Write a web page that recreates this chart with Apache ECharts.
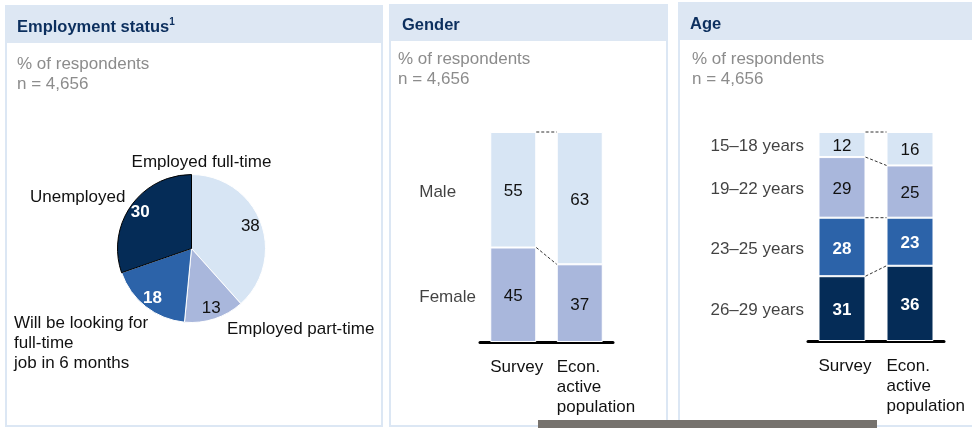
<!DOCTYPE html>
<html>
<head>
<meta charset="utf-8">
<script src="https://cdn.jsdelivr.net/npm/echarts@6/dist/echarts.min.js"></script>
<style>
  html, body { margin: 0; padding: 0; background: #fff; }
  #chart { width: 972px; height: 428px; }
</style>
</head>
<body>
<div id="chart"></div>
<script>
// ---- Data ----
const subtitleLines = ['% of respondents', 'n = 4,656'];

// Employment status (pie, clockwise from 12 o'clock)
const statusNames = ['Employed full-time', 'Employed part-time', 'Will be looking for\nfull-time\njob in 6 months', 'Unemployed'];
const statusValues = [38, 13, 18, 30];

// Comparison columns shared by the gender and age panels
const compareCats = ['Survey', 'Econ.\nactive\npopulation'];

// Gender, stacked bottom to top
const genderNames = ['Female', 'Male'];
const genderFemale = [45, 37];
const genderMale = [55, 63];

// Age, stacked bottom to top
const ageNames = ['26–29 years', '23–25 years', '19–22 years', '15–18 years'];
const age26to29 = [31, 36];
const age23to25 = [28, 23];
const age19to22 = [29, 25];
const age15to18 = [12, 16];

// ---- Styling ----
const FONT = '"Liberation Sans", Arial, Helvetica, sans-serif';
const LIGHT = '#d7e5f4';
const LAV = '#a9b7dc';
const BLUE = '#2c63a9';
const NAVY = '#052c57';
const TXT = '#111111';
const GREY = '#8c8c8c';
const HEAD = '#0c2f5e';
const PANEL_EDGE = '#dce7f4';
const PANEL_HEAD = '#dde7f3';

const pieColors = [LIGHT, LAV, BLUE, NAVY];
const pieDark = [false, false, true, true];
const pieLabelPos = [
  { x: 201.5, y: 162, align: 'center', verticalAlign: 'middle' },
  { x: 227, y: 329, align: 'left', verticalAlign: 'middle' },
  { x: 14, y: 343.5, align: 'left', verticalAlign: 'middle' },
  { x: 30, y: 197, align: 'left', verticalAlign: 'middle' }
];

// Builds the stacked columns, dashed connectors and row labels of one panel
function stackedPanel(gridIndex, stackName, names, segs, colors, darkSegs, barW, rowLabel) {
  const out = [];
  segs.forEach((seg, k) => {
    out.push({
      type: 'bar',
      name: names[k],
      xAxisIndex: gridIndex,
      yAxisIndex: gridIndex,
      stack: stackName,
      barWidth: barW,
      silent: true,
      data: seg,
      itemStyle: { color: colors[k], borderColor: '#ffffff', borderWidth: 1 },
      label: {
        show: true,
        position: 'inside',
        offset: [0, 2],
        fontFamily: FONT,
        fontSize: 17,
        color: darkSegs[k] ? '#ffffff' : TXT,
        fontWeight: darkSegs[k] ? 'bold' : 'normal'
      }
    });
  });

  // cumulative boundaries after each segment
  const links = [];
  const centers = [];
  let cs = 0, ce = 0;
  segs.forEach((seg, k) => {
    centers.push({ name: names[k], value: [0, cs + seg[0] / 2] });
    cs += seg[0];
    ce += seg[1];
    links.push([0, cs, ce]);
  });

  const half = barW / 2;
  out.push({
    type: 'custom',
    xAxisIndex: gridIndex,
    yAxisIndex: gridIndex,
    silent: true,
    z: 5,
    encode: { x: 0, y: [1, 2] },
    data: links,
    renderItem: function (params, api) {
      const s = api.coord([0, api.value(1)]);
      const e = api.coord([1, api.value(2)]);
      return {
        type: 'line',
        shape: { x1: s[0] + half, y1: s[1], x2: e[0] - half, y2: e[1] },
        style: { stroke: '#333333', lineWidth: 1, lineDash: [3, 2] }
      };
    }
  });

  out.push({
    type: 'scatter',
    xAxisIndex: gridIndex,
    yAxisIndex: gridIndex,
    silent: true,
    symbolSize: 1,
    itemStyle: { color: 'rgba(0,0,0,0)' },
    data: centers,
    label: Object.assign({
      show: true,
      position: 'inside',
      formatter: '{b}',
      fontFamily: FONT,
      fontSize: 17,
      color: TXT
    }, rowLabel)
  });
  return out;
}

function catAxis(gridIndex, barW) {
  return {
    type: 'category',
    gridIndex: gridIndex,
    data: compareCats,
    axisLine: { show: true, lineStyle: { color: '#000000', width: 3 } },
    axisTick: { show: false },
    axisLabel: {
      interval: 0,
      margin: 15,
      fontFamily: FONT,
      fontSize: 17,
      color: TXT,
      formatter: v => v.split('\n').map(s => '{a|' + s + '}').join('\n'),
      rich: { a: { width: barW, align: 'left', fontFamily: FONT, fontSize: 17, lineHeight: 20, color: TXT } }
    }
  };
}

function valAxis(gridIndex) {
  return { type: 'value', gridIndex: gridIndex, min: 0, max: 100, show: false };
}

function panel(x, y, w, h, headH) {
  return [
    { type: 'rect', z: -10, shape: { x: x, y: y, width: w, height: h },
      style: { fill: '#ffffff', stroke: PANEL_EDGE, lineWidth: 2 } },
    { type: 'rect', z: -9, shape: { x: x, y: y, width: w, height: headH },
      style: { fill: PANEL_HEAD } }
  ];
}

function heading(x, y, text) {
  return { type: 'text', z: 10, x: x, y: y,
    style: { text: text, fill: HEAD, font: 'bold 16.5px ' + FONT, textVerticalAlign: 'middle',
      rich: {
        t: { fontFamily: FONT, fontSize: 16.5, fontWeight: 'bold', fill: HEAD, lineHeight: 20 },
        s: { fontFamily: FONT, fontSize: 10, fontWeight: 'bold', fill: HEAD, verticalAlign: 'top', lineHeight: 14 }
      } } };
}

function subtitle(x, y) {
  return { type: 'text', z: 10, x: x, y: y,
    style: { text: subtitleLines.join('\n'), fill: GREY, font: '17px ' + FONT, lineHeight: 20 } };
}

const GW = 46, AW = 47;

const option = {
  backgroundColor: '#ffffff',
  animation: false,
  grid: [
    { left: 480, top: 132, width: 133, height: 210 },
    { left: 808, top: 132, width: 136, height: 209 }
  ],
  xAxis: [catAxis(0, GW), catAxis(1, AW)],
  yAxis: [valAxis(0), valAxis(1)],
  graphic: [].concat(
    panel(6, 6, 376, 420, 37),
    panel(390, 5, 277, 421, 36),
    panel(679, 3, 310, 423, 37),
    [
      heading(17, 27, '{t|Employment status}{s|1}'),
      heading(402, 25, '{t|Gender}'),
      heading(690, 24, '{t|Age}'),
      subtitle(17, 54),
      subtitle(398, 49),
      subtitle(692, 49),
      { type: 'rect', z: 100, shape: { x: 538, y: 420, width: 339, height: 8 }, style: { fill: '#76726d' } }
    ]
  ),
  series: [
    {
      type: 'pie',
      center: [191.5, 248.5],
      radius: 74,
      startAngle: 90,
      clockwise: true,
      silent: true,
      avoidLabelOverlap: false,
      data: statusNames.map((n, i) => ({
        name: n,
        value: statusValues[i],
        itemStyle: { color: pieColors[i], borderColor: i === 3 ? '#000000' : '#ffffff', borderWidth: 1 }
      })),
      label: { show: true, position: 'outside', formatter: '{b}', fontFamily: FONT, fontSize: 17, lineHeight: 20, color: TXT },
      labelLine: { show: false },
      labelLayout: p => pieLabelPos[p.dataIndex]
    },
    {
      // transparent ring carrying the value labels
      type: 'pie',
      center: [191.5, 248.5],
      radius: [46, 74],
      startAngle: 90,
      clockwise: true,
      silent: true,
      avoidLabelOverlap: false,
      itemStyle: { color: 'rgba(0,0,0,0)', borderWidth: 0 },
      labelLine: { show: false },
      data: statusNames.map((n, i) => ({
        name: n,
        value: statusValues[i],
        label: { color: pieDark[i] ? '#ffffff' : TXT, fontWeight: pieDark[i] ? 'bold' : 'normal' }
      })),
      label: { show: true, position: 'inside', formatter: '{c}', fontFamily: FONT, fontSize: 17 }
    }
  ].concat(
    stackedPanel(0, 'gender', genderNames, [genderFemale, genderMale], [LAV, LIGHT], [false, false], GW,
      { align: 'left', offset: [-94, 3] }),
    stackedPanel(1, 'age', ageNames, [age26to29, age23to25, age19to22, age15to18], [NAVY, BLUE, LAV, LIGHT],
      [true, true, false, false], AW, { align: 'right', offset: [-38, 2] })
  )
};

const chart = echarts.init(document.getElementById('chart'), null, { renderer: 'canvas' });
chart.setOption(option);
</script>
</body>
</html>
